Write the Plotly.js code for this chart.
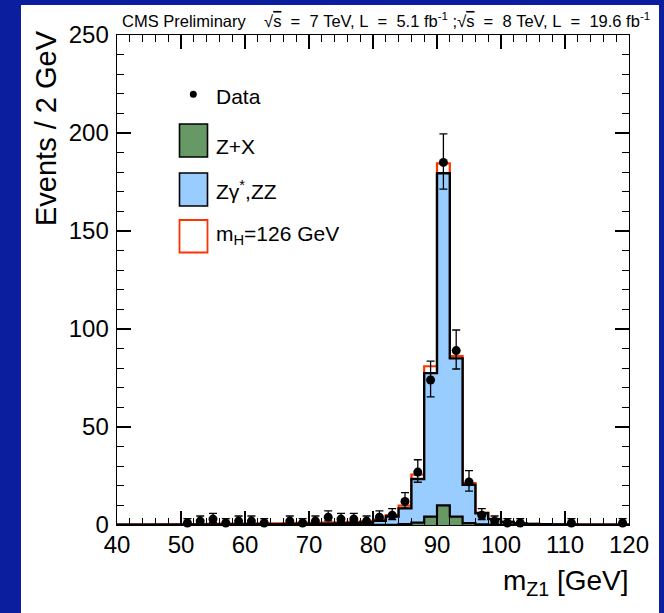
<!DOCTYPE html>
<html>
<head>
<meta charset="utf-8">
<script src="https://cdn.plot.ly/plotly-3.0.1.min.js"></script>
<style>html,body{margin:0;padding:0;background:#0a1e9e;}#chart{width:664px;height:613px;}</style>
</head>
<body>
<div id="chart"></div>
<script>
// Bin low edges (2 GeV bins from 40 to 120)
const binLow = [40,42,44,46,48,50,52,54,56,58,60,62,64,66,68,70,72,74,76,78,80,82,84,86,88,90,92,94,96,98,100,102,104,106,108,110,112,114,116,118];
const binCenter = [41,43,45,47,49,51,53,55,57,59,61,63,65,67,69,71,73,75,77,79,81,83,85,87,89,91,93,95,97,99,101,103,105,107,109,111,113,115,117,119];
const xMax = 120;
// Z+X background per bin
const zxVals = [0.05,0.05,0.05,0.05,0.05,0.05,0.05,0.05,0.05,0.05,0.05,0.05,0.05,0.05,0.05,0.05,0.05,0.05,0.05,0.05,0.05,0.05,0.4,1.2,4.3,10,4.3,1.0,0.3,0.05,0.05,0.05,0.05,0.05,0.05,0.05,0.05,0.05,0.05,0.05];
// Zgamma*,ZZ per bin
const zzVals = [0.05,0.05,0.05,0.1,0.1,0.15,0.15,0.2,0.25,0.25,0.3,0.3,0.35,0.4,0.45,0.5,0.6,0.7,0.95,1.25,2.15,4.25,8.1,22.3,73.2,169.5,80.7,19.5,5.7,2.95,1.45,0.75,0.45,0.35,0.25,0.2,0.15,0.15,0.1,0.1];
// mH = 126 GeV signal per bin
const higgsVals = [0.1,0.1,0.1,0.15,0.15,0.2,0.2,0.3,0.4,0.45,0.45,0.5,0.5,0.5,0.55,0.55,0.6,0.6,0.6,0.6,0.7,0.8,1.4,2.2,3.5,5.0,1.2,0.9,0.3,0.1,0.05,0.05,0.05,0.05,0.05,0.05,0.05,0.05,0.05,0.05];
// Observed data
const dataVals = [0,0,0,0,0,1,2,3,1,2,2,1,0,2,1,2,4,3,3,2,4,5,12,27,74,185,89,22,5,2,1,1,0,0,0,1,0,0,0,1];
const dataErrUp = [0,0,0,0,0,2.3,2.6,2.9,2.3,2.6,2.6,2.3,0,2.6,2.3,2.6,3.2,2.9,2.9,2.6,3.2,3.4,4.5,6.3,9.6,14.6,10.5,5.7,3.4,2.6,2.3,2.3,0,0,0,2.3,0,0,0,2.3];
const dataErrDown = [0,0,0,0,0,0.8,1.3,1.6,0.8,1.3,1.3,0.8,0,1.3,0.8,1.3,1.9,1.6,1.6,1.3,1.9,2.2,3.4,5.2,8.6,13.6,9.4,4.7,2.2,1.3,0.8,0.8,0,0,0,0.8,0,0,0,0.8];
const xTicks = [40,50,60,70,80,90,100,110,120];
const yTicks = [0,50,100,150,200,250];

const stackZX = zxVals.slice();
const stackZZ = zzVals.map((v,i)=>v+zxVals[i]);
const stackH = higgsVals.map((v,i)=>v+stackZZ[i]);

function stepX(){ return binLow.concat([xMax]); }
function stepY(arr){ return arr.concat([arr[arr.length-1]]); }

const font = "Liberation Sans, Arial, Helvetica, sans-serif";
const L=117, R=629, T=35, B=525;
const W=R-L, H=B-T;
const px = x => (x-L)/W;
const py = y => (B-y)/H;

const traces = [
  {x: stepX(), y: stepY(stackH), type:'scatter', mode:'lines', line:{shape:'hv', color:'#ff3300', width:2.2}, fill:'tozeroy', fillcolor:'#ffffff', hoverinfo:'skip', showlegend:false},
  {x: stepX(), y: stepY(stackZZ), type:'scatter', mode:'lines', line:{shape:'hv', color:'#000000', width:2.4}, fill:'tozeroy', fillcolor:'#99ccff', hoverinfo:'skip', showlegend:false},
  {x: stepX(), y: stepY(stackZX), type:'scatter', mode:'lines', line:{shape:'hv', color:'#000000', width:2.2}, fill:'tozeroy', fillcolor:'#669966', hoverinfo:'skip', showlegend:false}
];
const dx=[],dy=[],du=[],dd=[];
dataVals.forEach((v,i)=>{ if(v>0){ dx.push(binCenter[i]); dy.push(v); du.push(dataErrUp[i]); dd.push(dataErrDown[i]); }});
traces.push({x:dx, y:dy, type:'scatter', mode:'markers', marker:{color:'#000', size:9}, error_y:{type:'data', symmetric:false, array:du, arrayminus:dd, color:'#000', thickness:1.3, width:4}, showlegend:false, cliponaxis:false});

const shapes = [
  {type:'rect', xref:'paper', yref:'paper', x0:px(21), x1:px(659), y0:py(613), y1:py(5), fillcolor:'#ffffff', line:{width:0}, layer:'below'},
  {type:'circle', xref:'paper', yref:'paper', x0:px(189.8), x1:px(196.8), y0:py(97.8), y1:py(90.8), fillcolor:'#000', line:{width:0}},
  {type:'rect', xref:'paper', yref:'paper', x0:px(179.5), x1:px(207.5), y0:py(157), y1:py(124), fillcolor:'#669966', line:{color:'#000', width:1.6}},
  {type:'rect', xref:'paper', yref:'paper', x0:px(179.5), x1:px(207.5), y0:py(206), y1:py(173), fillcolor:'#99ccff', line:{color:'#000', width:1.6}},
  {type:'rect', xref:'paper', yref:'paper', x0:px(179.5), x1:px(207.5), y0:py(252.5), y1:py(220), fillcolor:'#ffffff', line:{color:'#ff3300', width:1.8}}
];

const ann = (text, x, y, size, opts) => Object.assign({text:text, xref:'paper', yref:'paper', x:px(x), y:py(y), showarrow:false, xanchor:'left', yanchor:'middle', font:{family:font, size:size, color:'#000'}}, opts||{});
const NB = '\u00A0';
const S2 = NB+NB;
const sq = "√<span style='text-decoration:overline'>s</span>";
const header = "CMS Preliminary" + NB+NB+NB+NB + sq + S2+"="+S2+"7"+NB+"TeV,"+NB+"L"+S2+"="+S2+"5.1"+NB+"fb<sup>-1</sup>"+NB+";" + sq + S2+"="+S2+"8"+NB+"TeV,"+NB+"L"+S2+"="+S2+"19.6"+NB+"fb<sup>-1</sup>";
const annotations = [
  ann(header, 120, 20, 16.5),
  ann("Data", 214, 96, 21),
  ann("Z+X", 214, 146, 21),
  ann("Zγ<sup>*</sup>,ZZ", 214, 190, 21),
  ann("m<sub>H</sub>=126 GeV", 214, 235, 21),
  ann("m<sub>Z1</sub> [GeV]", 631, 582, 28, {xanchor:'right'}),
  ann("Events / 2 GeV", 46, 28, 29, {xanchor:'center', yanchor:'top', textangle:-90})
];

const axisCommon = {showgrid:false, zeroline:false, showline:true, linecolor:'#000', linewidth:1.4, mirror:'ticks', ticks:'inside', ticklen:14, tickwidth:1.2, tickcolor:'#000', tickfont:{family:font, size:24, color:'#000'}};

const layout = {
  width:664, height:613,
  paper_bgcolor:'#0a1e9e', plot_bgcolor:'#ffffff',
  margin:{l:L, r:664-R, t:T, b:613-B, pad:0},
  showlegend:false,
  xaxis: Object.assign({}, axisCommon, {range:[40,120], tickvals:xTicks, ticktext:xTicks.map(String), ticklabelstandoff:-2, minor:{dtick:2, tick0:40, ticks:'inside', ticklen:7, tickwidth:1.2, tickcolor:'#000', showgrid:false}}),
  yaxis: Object.assign({}, axisCommon, {range:[0,250], tickvals:yTicks, ticktext:yTicks.map(String), ticklabelstandoff:2, minor:{dtick:10, tick0:0, ticks:'inside', ticklen:7, tickwidth:1.2, tickcolor:'#000', showgrid:false}}),
  shapes: shapes,
  annotations: annotations
};

Plotly.newPlot('chart', traces, layout, {staticPlot:true, displayModeBar:false});
</script>
</body>
</html>
